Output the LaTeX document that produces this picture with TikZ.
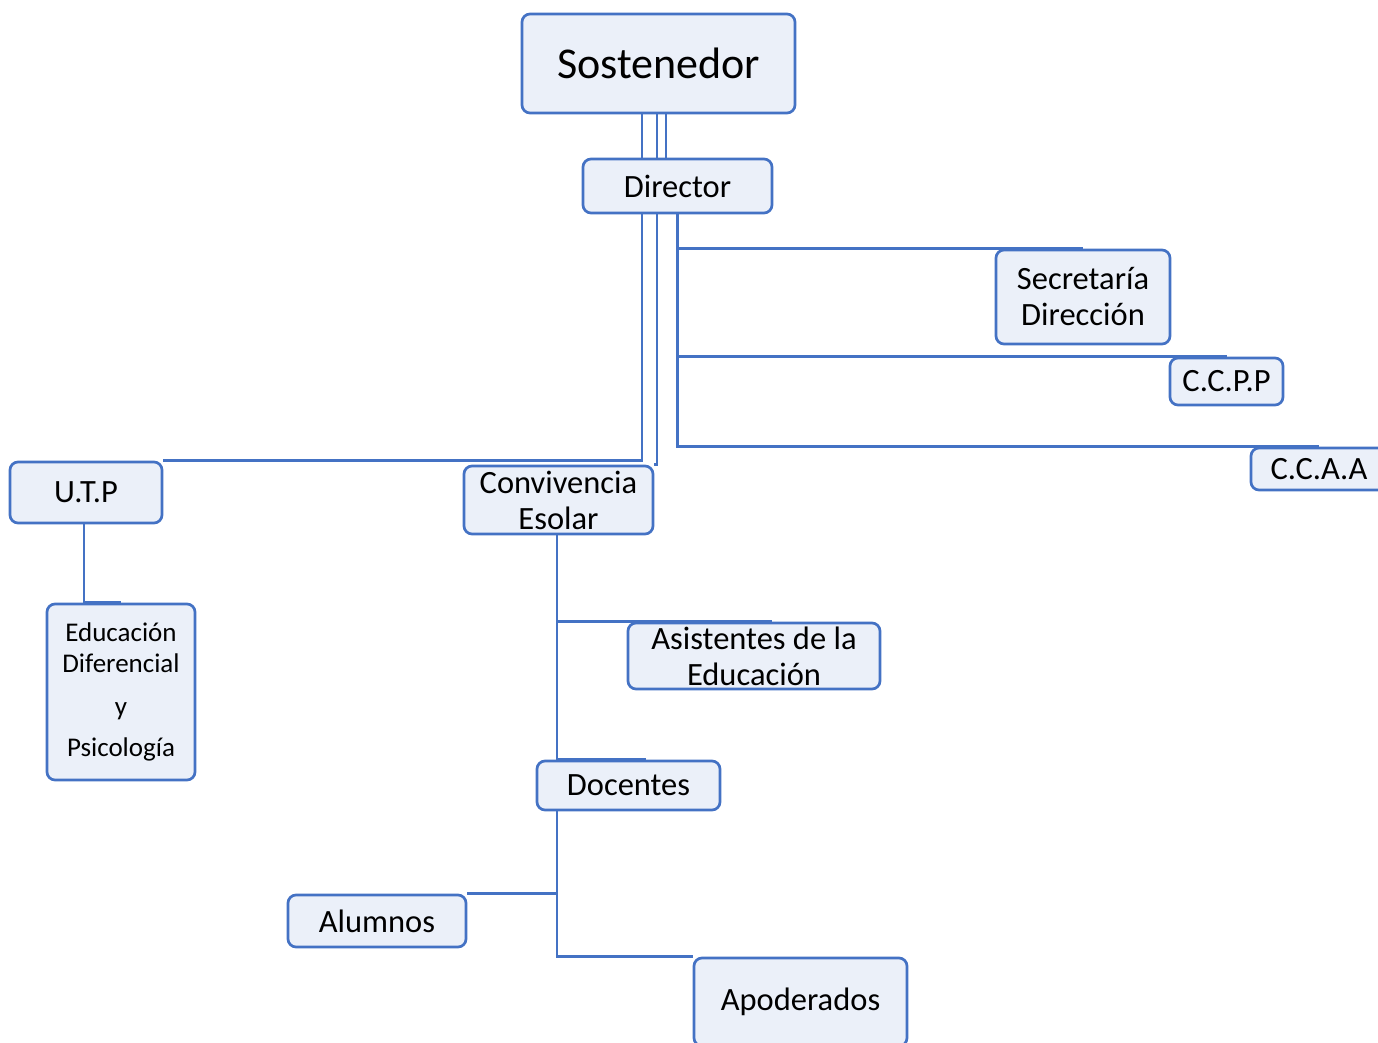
\documentclass[tikz,border=0pt]{standalone}
\usepackage{fontspec}
\setmainfont{Carlito}
\usetikzlibrary{positioning}

\definecolor{borde}{RGB}{68,114,196}
\definecolor{relleno}{RGB}{235,240,249}

\begin{document}
\begin{tikzpicture}[x=1pt, y=-1pt,
    unidad/.style={draw=borde, fill=relleno, line width=2.7pt, rounded corners=8pt,
      inner sep=0pt, align=center, font=\fontsize{32.5}{36}\selectfont},
    enlace/.style={draw=borde, line width=2.6pt}]
  \useasboundingbox (0,0) rectangle (1378,1042);

  \node[unidad, minimum width=273, minimum height=99,
    font=\fontsize{44}{48}\selectfont] (sost) at (658.5,63.5) {Sostenedor};
  \node[unidad, minimum width=189, minimum height=54] (dir) at (677.5,186) {Director};
  \node[unidad, minimum width=174, minimum height=94] (secre) at (1083,297)
    {Secretaría\\Dirección};
  \node[unidad, minimum width=113, minimum height=47] (ccpp) at (1226.5,381.5) {C.C.P.P};
  \node[unidad, minimum width=136, minimum height=42] (ccaa) at (1319,469) {C.C.A.A};
  \node[unidad, minimum width=152, minimum height=61] (utp) at (86,492.5) {U.T.P};
  \node[unidad, minimum width=189, minimum height=68] (conv) at (558.5,500)
    {Convivencia\\Esolar};
  \node[unidad, minimum width=148, minimum height=176,
    font=\fontsize{27}{31}\selectfont] (edu) at (121,692)
    {Educación\\Diferencial\\[12pt]y\\[10pt]Psicología};
  \node[unidad, minimum width=252, minimum height=66] (asis) at (754,656)
    {Asistentes de la\\Educación};
  \node[unidad, minimum width=183, minimum height=49] (doc) at (628.5,785.5) {Docentes};
  \node[unidad, minimum width=178, minimum height=52] (alum) at (377,921) {Alumnos};
  \node[unidad, minimum width=213, minimum height=88] (apod) at (800.5,1002) {Apoderados};

  \draw[enlace] ([xshift=-16.5pt]sost.south) -- ([xshift=-16.5pt]sost.south |- dir.north);
  \draw[enlace] ([xshift=-1.5pt]sost.south) -- ([xshift=-1.5pt]sost.south |- dir.north);
  \draw[enlace] ([xshift=7.5pt]sost.south) -- ([xshift=7.5pt]sost.south |- dir.north);

  \draw[enlace] ([xshift=-35.5pt]dir.south) |- (utp.north east);
  \draw[enlace] ([xshift=-20.5pt]dir.south) |- (conv.north east);
  \draw[enlace] (dir.south) |- (secre.north);
  \draw[enlace] (dir.south) |- (ccpp.north);
  \draw[enlace] (dir.south) |- (ccaa.north);

  \draw[enlace] ([xshift=-2pt]utp.south) |- (edu.north);

  \draw[enlace] ([xshift=-1.5pt]conv.south) |- ([xshift=18pt]asis.north);
  \draw[enlace] ([xshift=-1.5pt]conv.south) |- ([xshift=17pt]doc.north);

  \draw[enlace] ([xshift=-71.5pt]doc.south) |- (alum.north east);
  \draw[enlace] ([xshift=-71.5pt]doc.south) |- (apod.north west);
\end{tikzpicture}
\end{document}
